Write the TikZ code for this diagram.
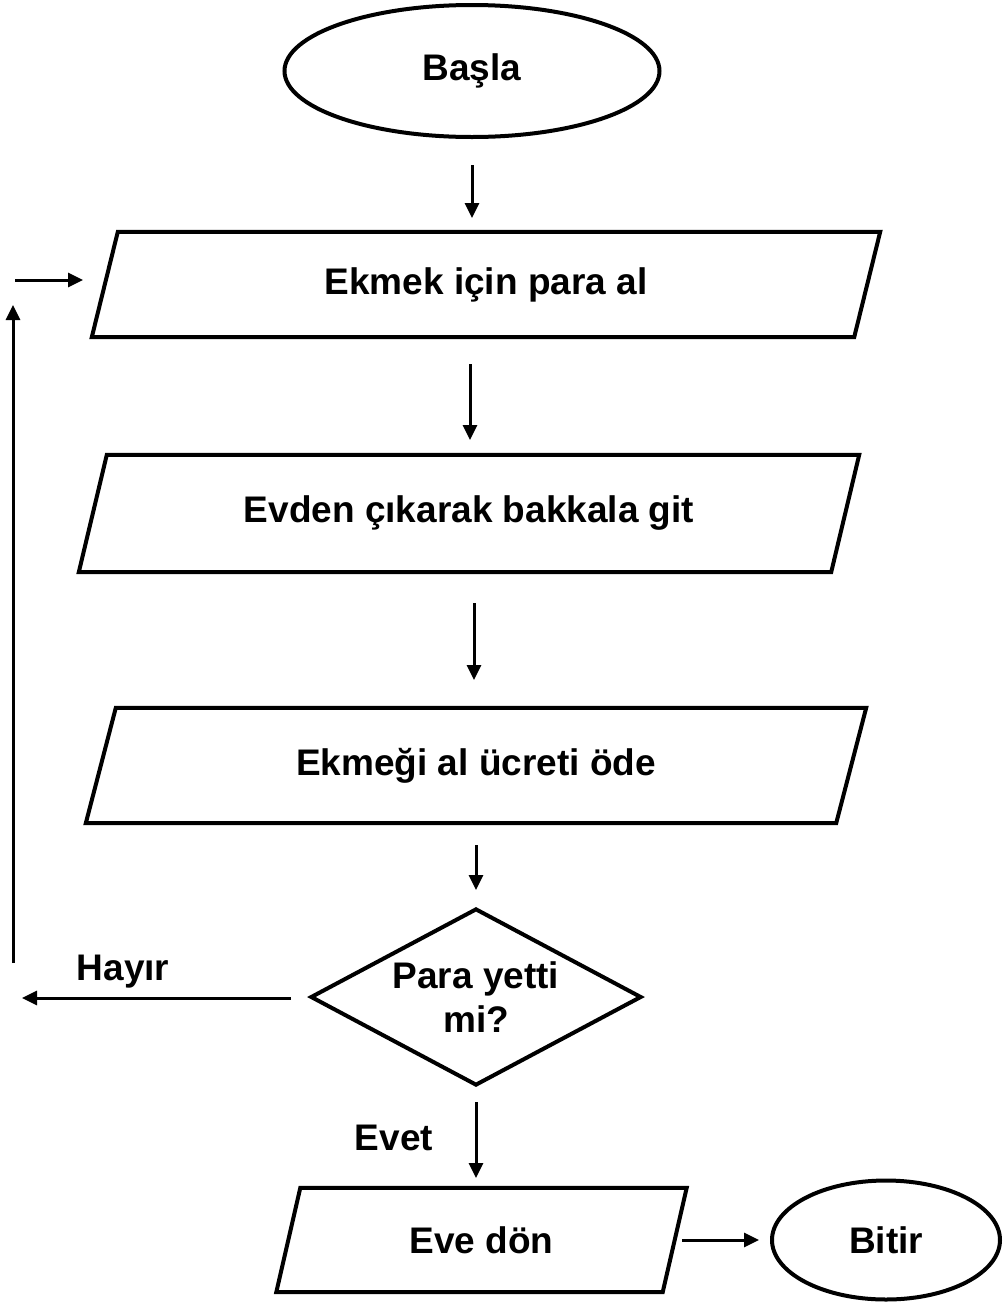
\documentclass[tikz,border=0pt]{standalone}
\usepackage{fontspec}
\setmainfont{Liberation Sans}
\usetikzlibrary{shapes.geometric,arrows.meta}

\begin{document}
\begin{tikzpicture}[x=1pt,y=-1pt,>={Triangle[length=15pt,width=14pt]},
                    every node/.style={font=\fontsize{37}{44}\selectfont\bfseries, align=center},
                    term/.style={draw, ellipse, line width=4pt, inner sep=0pt},
                    io/.style={inner sep=0pt},
                    box/.style={line width=4pt, line join=miter},
                    decision/.style={draw, diamond, aspect=1.87, line width=4pt, inner sep=0pt,
                                     minimum width=331pt, minimum height=177pt},
                    flow/.style={->, line width=3pt}]
\useasboundingbox (0,0) rectangle (1005,1302);
\node[term, minimum width=375pt, minimum height=132pt] (basla) at (472,71) {Başla};
\node[io, minimum width=762pt, minimum height=105pt] (para) at (486,284.5) {Ekmek için para al};
\node[io, minimum width=752pt, minimum height=117pt] (bakkal) at (469,513.5) {Evden çıkarak bakkala git};
\node[io, minimum width=750pt, minimum height=115pt] (ode) at (476,765.5) {Ekmeği al ücreti öde};
\node[decision] (yetti) at (476,997) {Para yetti\\mi?};
\node[io, minimum width=386pt, minimum height=104pt] (eve) at (481.5,1240) {Eve dön};
\node[term, minimum width=228pt, minimum height=119pt] (bitir) at (886,1240) {Bitir};
\node[anchor=base] (hayir) at (123,980) {Hayır};
\node[anchor=base] (evet) at (394,1150) {Evet};
\draw[box] ([xshift=13pt]para.north west) -- ([xshift=13pt]para.north east)
        -- ([xshift=-13pt]para.south east) -- ([xshift=-13pt]para.south west) -- cycle;
\draw[box] ([xshift=14pt]bakkal.north west) -- ([xshift=14pt]bakkal.north east)
        -- ([xshift=-14pt]bakkal.south east) -- ([xshift=-14pt]bakkal.south west) -- cycle;
\draw[box] ([xshift=15pt]ode.north west) -- ([xshift=15pt]ode.north east)
        -- ([xshift=-15pt]ode.south east) -- ([xshift=-15pt]ode.south west) -- cycle;
\draw[box] ([xshift=12pt]eve.north west) -- ([xshift=12pt]eve.north east)
        -- ([xshift=-12pt]eve.south east) -- ([xshift=-12pt]eve.south west) -- cycle;
\coordinate (a1) at (472,165);   \coordinate (b1) at (472,218);
\coordinate (a2) at (470,364);   \coordinate (b2) at (470,440);
\coordinate (a3) at (474,603);   \coordinate (b3) at (474,680);
\coordinate (a4) at (476,845);   \coordinate (b4) at (476,890);
\coordinate (a5) at (476,1102);  \coordinate (b5) at (476,1178);
\coordinate (a6) at (682,1240);  \coordinate (b6) at (759,1240);
\coordinate (h1) at (291,998);   \coordinate (h2) at (22,998);
\coordinate (l1) at (13,963);    \coordinate (l2) at (13,305);
\coordinate (r1) at (15,280);    \coordinate (r2) at (83,280);
\draw[flow] (a1) -- (b1);
\draw[flow] (a2) -- (b2);
\draw[flow] (a3) -- (b3);
\draw[flow] (a4) -- (b4);
\draw[flow] (a5) -- (b5);
\draw[flow] (a6) -- (b6);
\draw[flow] (h1) -- (h2);
\draw[flow] (l1) -- (l2);
\draw[flow] (r1) -- (r2);
\end{tikzpicture}
\end{document}
